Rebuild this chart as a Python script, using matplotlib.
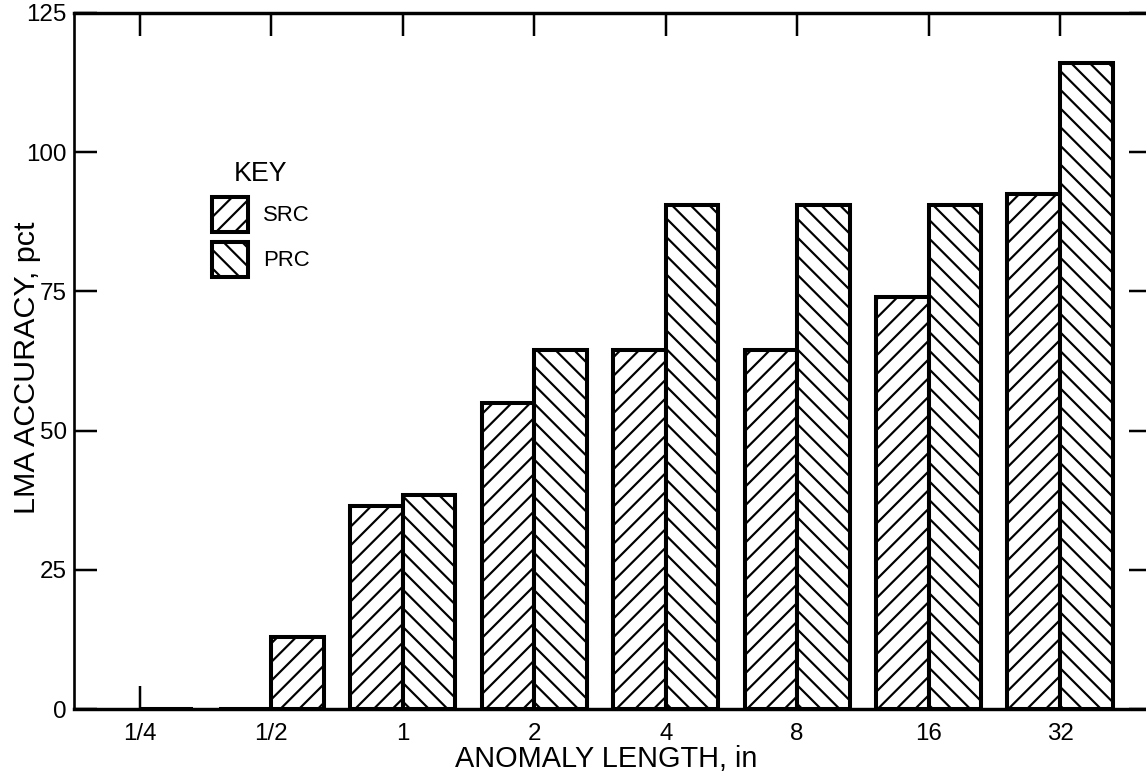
import numpy as np
import matplotlib
matplotlib.use("Agg")
import matplotlib.pyplot as plt

# values
categories = ["1/4", "1/2", "1", "2", "4", "8", "16", "32"]
src = [np.nan, 0, 36.5, 55, 64.5, 64.5, 74, 92.5]
prc = [0, 13, 38.5, 64.5, 90.5, 90.5, 90.5, 116]
yticks = [0, 25, 50, 75, 100, 125]

DPI = 112
plt.rcParams['font.family'] = ['Liberation Sans', 'DejaVu Sans']
plt.rcParams['hatch.linewidth'] = 1.4

fig = plt.figure(figsize=(1146 / DPI, 775 / DPI), dpi=DPI)
# axes box in pixels: left 74, right ~1152 (just past the page), top 13, bottom 709
ax = fig.add_axes([74 / 1146, 66 / 775, (1152 - 74) / 1146, 696 / 775])

x = np.arange(len(categories))
w = 0.4
b1 = ax.bar(x - w / 2, src, w, facecolor="white", edgecolor="black",
            linewidth=2.6, hatch="//", label="SRC", zorder=2)
b2 = ax.bar(x + w / 2, prc, w, facecolor="white", edgecolor="black",
            linewidth=2.6, hatch="\\\\", label="PRC", zorder=2)
# the 1/2 bar is drawn with the SRC hatch in the original figure
b2.patches[1].set_hatch("//")

ax.set_xlim(-0.502, 7.70)
ax.set_ylim(0, 125)
ax.set_xticks(x)
ax.set_xticklabels(categories)
ax.set_yticks(yticks)
ax.set_yticklabels([str(v) for v in yticks])

ax.tick_params(axis="both", direction="in", length=15, width=1.6,
               top=True, right=True, labelsize=15.5, colors="black")
ax.tick_params(axis="x", pad=9)
ax.tick_params(axis="y", pad=4.5)
for s in ax.spines.values():
    s.set_linewidth(1.7)
ax.spines["top"].set_linewidth(2.2)
ax.spines["bottom"].set_linewidth(2.2)

ax.set_xlabel("ANOMALY LENGTH, in", fontsize=18.6)
ax.set_ylabel("LMA ACCURACY, pct", fontsize=19.6)
ax.xaxis.set_label_coords(0.4935, -0.052)
ax.yaxis.set_label_coords(-0.031, 0.491)

leg = ax.legend(handles=[b1, b2], title="KEY", loc="upper left",
                bbox_to_anchor=(212 / 1146, 1 - 161 / 775),
                bbox_transform=fig.transFigure, frameon=False,
                fontsize=14.2, title_fontsize=17.2,
                handlelength=1.61, handleheight=2.06, handletextpad=0.7,
                labelspacing=0.45, borderpad=0, borderaxespad=0)

fig.savefig("out.png", dpi=DPI)
